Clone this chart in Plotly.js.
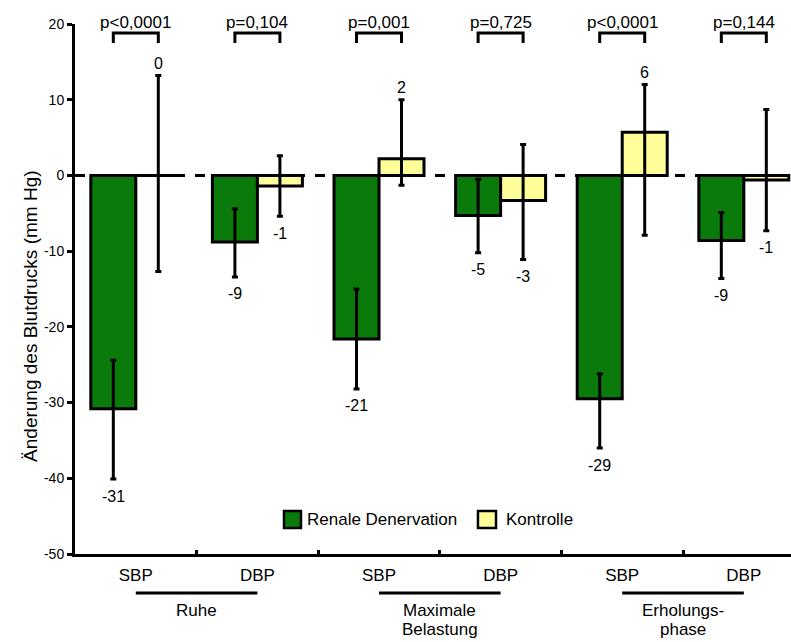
<!DOCTYPE html>
<html>
<head>
<meta charset="utf-8">
<script src="https://cdn.plot.ly/plotly-3.0.1.min.js"></script>
<style>html,body{margin:0;padding:0;background:#fff}#chart{width:791px;height:642px}</style>
</head>
<body>
<div id="chart"></div>
<script>
// ---- data ----
const categories = ['SBP', 'DBP', 'SBP', 'DBP', 'SBP', 'DBP'];
const groupLabels = [['Ruhe'], ['Maximale', 'Belastung'], ['Erholungs-', 'phase']];
const seriesNames = ['Renale Denervation', 'Kontrolle'];

const rdnValues = [-30.8, -8.8, -21.6, -5.3, -29.5, -8.6];
const rdnUpper  = [-24.4, -4.4, -15.0, -0.5, -26.2, -4.9];
const rdnLower  = [-40.1, -13.4, -28.2, -10.2, -36.0, -13.6];
const rdnLabels = ['-31', '-9', '-21', '-5', '-29', '-9'];

const ctlValues = [0, -1.4, 2.2, -3.3, 5.7, -0.6];
const ctlUpper  = [13.2, 2.6, 10.0, 4.1, 12.0, 8.7];
const ctlLower  = [-12.7, -5.4, -1.3, -11.1, -7.9, -7.3];
const ctlLabels = ['0', '-1', '2', '-3', '6', '-1'];

const pValues = ['p<0,0001', 'p=0,104', 'p=0,001', 'p=0,725', 'p<0,0001', 'p=0,144'];

const yTickVals = [-50, -40, -30, -20, -10, 0, 10, 20];
const yTickText = ['-50', '-40', '-30', '-20', '-10', '0', '10', '20'];

// ---- styling ----
const FONT = 'Liberation Sans, Arial, Helvetica, sans-serif';
const GREEN = '#0a7a0a';
const YELLOW = '#ffff99';
const HALF = 0.185;      // offset of each bar from the group centre
const BARW = 0.37;

const idx = categories.map((_, i) => i);
const xG = idx.map(i => i - HALF);
const xY = idx.map(i => i + HALF);

function errBar(vals, up, lo) {
  return {
    type: 'data', symmetric: false,
    array: vals.map((v, i) => up[i] - v),
    arrayminus: vals.map((v, i) => v - lo[i]),
    color: 'black', thickness: 3, width: 3
  };
}

const traces = [
  {
    type: 'bar', name: seriesNames[0], x: xG, y: rdnValues, width: BARW,
    marker: { color: GREEN, line: { color: 'black', width: 3 } },
    error_y: errBar(rdnValues, rdnUpper, rdnLower),
    showlegend: false, hoverinfo: 'name+y'
  },
  {
    type: 'bar', name: seriesNames[1], x: xY, y: ctlValues, width: BARW,
    marker: { color: YELLOW, line: { color: 'black', width: 3 } },
    error_y: errBar(ctlValues, ctlUpper, ctlLower),
    showlegend: false, hoverinfo: 'name+y'
  }
];

const annotations = [];
const shapes = [];

// zero dashed line
shapes.push({
  type: 'line', xref: 'paper', yref: 'y', x0: 0, x1: 1, y0: 0, y1: 0,
  line: { color: 'black', width: 3, dash: '10px,10px' }, layer: 'above'
});

// value labels
function addLabels(xs, vals, up, lo, labels) {
  xs.forEach((x, i) => {
    const above = vals[i] >= 0;
    annotations.push({
      x: x, y: above ? up[i] : lo[i], xref: 'x', yref: 'y',
      text: labels[i], showarrow: false, yanchor: 'middle',
      yshift: above ? 12 : -17,
      font: { family: FONT, size: 16, color: 'black' }
    });
  });
}
addLabels(xG, rdnValues, rdnUpper, rdnLower, rdnLabels);
addLabels(xY, ctlValues, ctlUpper, ctlLower, ctlLabels);

// p-value brackets
const BR_TOP = 18.8, BR_BOT = 17.5, P_Y = 1.002;
idx.forEach(i => {
  shapes.push({
    type: 'path', xref: 'x', yref: 'y',
    path: `M ${xG[i]},${BR_BOT} L ${xG[i]},${BR_TOP} L ${xY[i]},${BR_TOP} L ${xY[i]},${BR_BOT}`,
    line: { color: 'black', width: 3 }
  });
  annotations.push({
    x: i, y: P_Y, xref: 'x', yref: 'paper', text: pValues[i], showarrow: false,
    yanchor: 'middle', font: { family: FONT, size: 17, color: 'black' }
  });
});

// group lines and labels below the x axis
const LINE_Y = [-0.1075, -0.1425];
groupLabels.forEach((g, k) => {
  const a = 2 * k, b = 2 * k + 1;
  shapes.push({
    type: 'line', xref: 'x', yref: 'paper', x0: a, x1: b, y0: -0.0736, y1: -0.0736,
    line: { color: 'black', width: 3 }
  });
  g.forEach((line, j) => {
    annotations.push({
      x: (a + b) / 2, y: LINE_Y[j], xref: 'x', yref: 'paper', text: line, showarrow: false,
      yanchor: 'middle', font: { family: FONT, size: 17, color: 'black' }
    });
  });
});

// y-axis title
annotations.push({
  x: -0.063, y: 0.449, xref: 'paper', yref: 'paper', text: 'Änderung des Blutdrucks (mm Hg)',
  textangle: -90, showarrow: false, xanchor: 'center', yanchor: 'middle',
  font: { family: FONT, size: 19, color: 'black' }
});

// legend (drawn manually)
const legendItems = [
  { name: seriesNames[0], color: GREEN, x0: 0.2919, x1: 0.3156, tx: 0.3212 },
  { name: seriesNames[1], color: YELLOW, x0: 0.5628, x1: 0.5880, tx: 0.5992 }
];
legendItems.forEach(it => {
  shapes.push({
    type: 'rect', xref: 'paper', yref: 'paper', x0: it.x0, x1: it.x1, y0: 0.049, y1: 0.0811,
    fillcolor: it.color, line: { color: 'black', width: 2.5 }
  });
  annotations.push({
    x: it.tx, y: 0.0645, xref: 'paper', yref: 'paper', text: it.name, showarrow: false,
    xanchor: 'left', yanchor: 'middle', font: { family: FONT, size: 17, color: 'black' }
  });
});

const layout = {
  width: 791, height: 642,
  margin: { l: 75, r: 0, t: 24, b: 88 },
  paper_bgcolor: 'white', plot_bgcolor: 'white',
  showlegend: false,
  font: { family: FONT, color: 'black' },
  xaxis: {
    range: [-0.5, 5.388], tickmode: 'array', tickvals: idx, ticktext: categories,
    ticks: '', ticklabelstandoff: 4,
    showline: true, linecolor: 'black', linewidth: 3, showgrid: false, zeroline: false,
    tickfont: { family: FONT, size: 17, color: 'black' },
    minor: { tickmode: 'array', tickvals: [0.5, 1.5, 2.5, 3.5, 4.5], ticks: 'inside', ticklen: 4, tickwidth: 3, tickcolor: 'black', showgrid: false },
    fixedrange: true
  },
  yaxis: {
    range: [-50, 20], tickmode: 'array', tickvals: yTickVals, ticktext: yTickText,
    ticks: 'outside', ticklen: 5, tickwidth: 3, tickcolor: 'black',
    showline: true, linecolor: 'black', linewidth: 3, showgrid: false, zeroline: false,
    tickfont: { family: FONT, size: 14, color: 'black' },
    fixedrange: true
  },
  shapes: shapes,
  annotations: annotations
};

Plotly.newPlot('chart', traces, layout, { displayModeBar: false, staticPlot: true });
</script>
</body>
</html>
